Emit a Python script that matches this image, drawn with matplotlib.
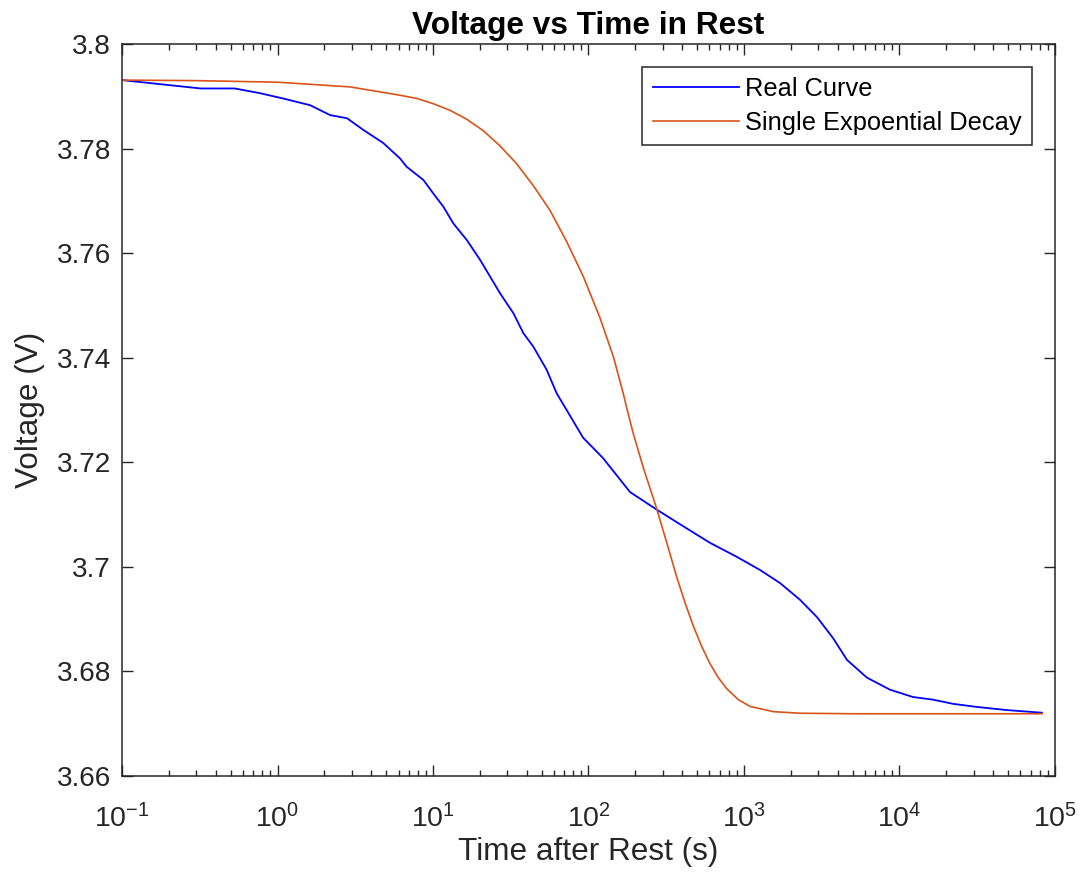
import math

import matplotlib
matplotlib.use("Agg")
import matplotlib.pyplot as plt
from matplotlib.ticker import FixedLocator, FuncFormatter, NullFormatter

# 字体 / MATLAB 风格
plt.rcParams["font.family"] = ["Liberation Sans", "DejaVu Sans"]
plt.rcParams["mathtext.fontset"] = "custom"
plt.rcParams["mathtext.rm"] = "Liberation Sans"
plt.rcParams["mathtext.default"] = "regular"

AX_COLOR = "#262626"

real_t = [0.1, 0.32, 0.53, 0.77, 1.08, 1.62, 2.18, 2.80, 3.55, 4.77, 6.14, 6.78,
          8.67, 10.05, 11.65, 13.5, 16.5, 20.1, 23.3, 27.0, 32.9, 38.1, 44.2,
          53.8, 62.4, 92.3, 124, 185, 276, 405, 604, 901, 1268, 1705, 2292,
          2944, 3733, 4596, 6180, 8690, 12220, 16400, 22080, 31490, 49100, 82400]
real_v = [3.7931, 3.7915, 3.7915, 3.7906, 3.7896, 3.7883, 3.7864, 3.7858, 3.7836,
          3.7811, 3.7781, 3.7765, 3.7740, 3.7714, 3.7689, 3.7657, 3.7625, 3.7587,
          3.7555, 3.7523, 3.7485, 3.7447, 3.7421, 3.7377, 3.7332, 3.7247, 3.7208,
          3.7143, 3.7109, 3.7078, 3.7046, 3.7019, 3.6994, 3.6969, 3.6937, 3.6904,
          3.6864, 3.6822, 3.6788, 3.6765, 3.6751, 3.6746, 3.6738, 3.6732, 3.6726,
          3.6721]

# 单指数衰减拟合曲线
fit_t = [0.1, 0.3, 1.0, 2.93, 6.14, 7.85, 10.0, 12.9, 16.5, 21.1, 27.0, 34.5,
         44.2, 56.5, 72.4, 92.7, 118.6, 144.5, 167.5, 175.8, 194, 225, 274, 318,
         369, 418, 472, 534, 604, 684, 774, 919, 1094, 1545, 2291, 5000, 82400]
fit_v = [3.7931, 3.7930, 3.7927, 3.7918, 3.7902, 3.7896, 3.7886, 3.7873, 3.7856,
         3.7834, 3.7805, 3.7771, 3.7729, 3.7682, 3.7622, 3.7555, 3.7476, 3.7402,
         3.7331, 3.7305, 3.7255, 3.7190, 3.7112, 3.7047, 3.6981, 3.6931, 3.6887,
         3.6848, 3.6815, 3.6788, 3.6767, 3.6746, 3.6733, 3.6723, 3.6720, 3.6719,
         3.6719]

x_ticks = [1e-1, 1e0, 1e1, 1e2, 1e3, 1e4, 1e5]
y_ticks = [3.66, 3.68, 3.70, 3.72, 3.74, 3.76, 3.78, 3.80]

fig = plt.figure(figsize=(10.82, 8.77), dpi=100)
ax = fig.add_axes([0.1128, 0.1152, 0.8622, 0.8346])

ax.plot(real_t, real_v, color="#0000FF", linewidth=1.3, label="Real Curve")
ax.plot(fit_t, fit_v, color="#D95319", linewidth=1.2, label="Single Expoential Decay")

ax.set_xscale("log")
ax.set_xlim(0.1, 1e5)
ax.set_ylim(3.66, 3.8)
ax.yaxis.set_major_locator(FixedLocator(y_ticks))
ax.yaxis.set_major_formatter(FuncFormatter(lambda v, p: "%g" % round(v, 4)))
ax.xaxis.set_major_locator(FixedLocator(x_ticks))
ax.xaxis.set_major_formatter(FuncFormatter(
    lambda v, p: r"$\mathregular{10^{%d}}$" % round(math.log10(v))))
minor = [m * 10.0 ** e for e in range(-1, 5) for m in range(2, 10)]
ax.xaxis.set_minor_locator(FixedLocator(minor))
ax.xaxis.set_minor_formatter(NullFormatter())

ax.tick_params(which="both", direction="in", top=True, right=True,
               colors=AX_COLOR, labelcolor=AX_COLOR, width=1.0)
ax.tick_params(which="major", length=8)
ax.tick_params(axis="y", which="major", labelsize=20.2, pad=8)
ax.tick_params(axis="x", which="major", labelsize=20.5, pad=20)
ax.tick_params(which="minor", length=4)
for s in ax.spines.values():
    s.set_color(AX_COLOR)
    s.set_linewidth(1.1)

ax.set_title("Voltage vs Time in Rest", fontsize=22.8, fontweight="bold", pad=7)
ax.set_xlabel("Time after Rest (s)", fontsize=22.7, color=AX_COLOR, labelpad=3)
ax.set_ylabel("Voltage (V)", fontsize=22.7, color=AX_COLOR, labelpad=8)

leg = ax.legend(loc="upper right", fontsize=18.3, fancybox=False, framealpha=1,
                edgecolor=AX_COLOR, borderaxespad=0.9, handlelength=3.4,
                handletextpad=0.25, borderpad=0.4, labelspacing=0.4)
leg.get_frame().set_linewidth(1.1)

fig.savefig("out.png", dpi=100)
